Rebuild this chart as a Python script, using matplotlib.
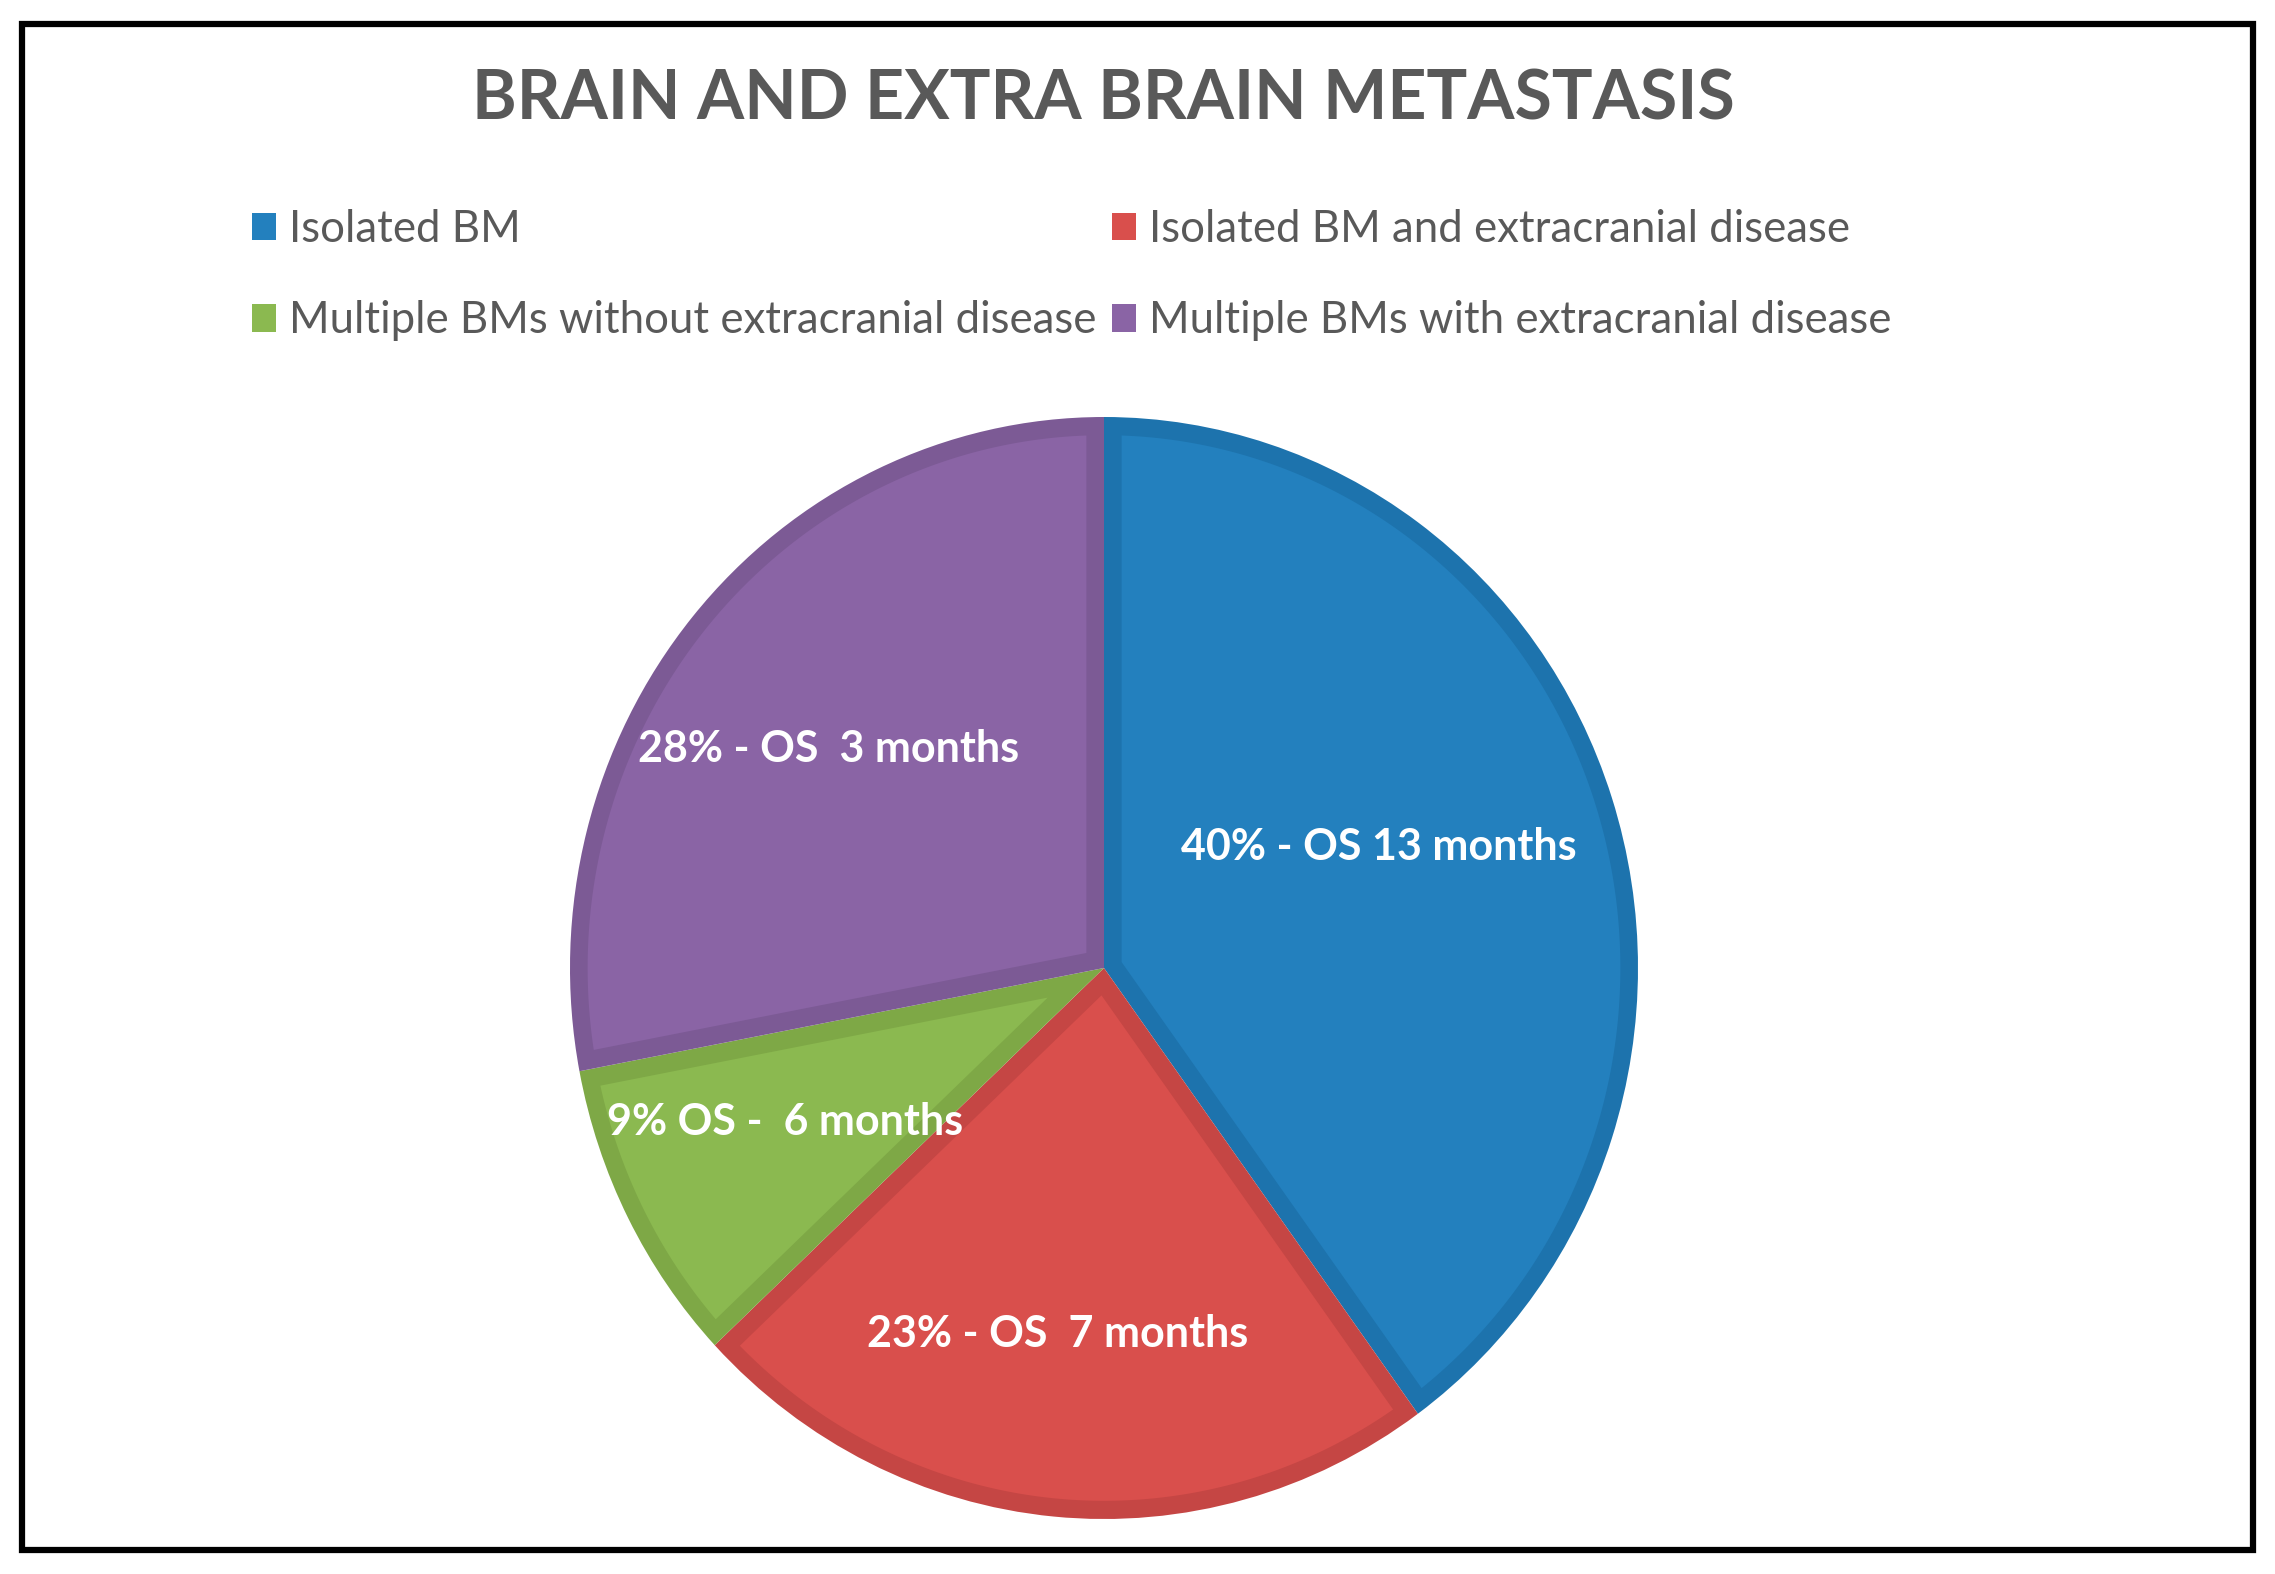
import matplotlib
matplotlib.use('Agg')
import matplotlib.pyplot as plt
from matplotlib.patches import Patch, Rectangle, Polygon
import numpy as np

plt.rcParams['font.family'] = ['Lato', 'DejaVu Sans']

# data
categories = ['Isolated BM', 'Isolated BM and extracranial disease',
              'Multiple BMs without extracranial disease', 'Multiple BMs with extracranial disease']
shares = [40, 23, 9, 28]
slice_labels = ['40% - OS 13 months', '23% - OS  7 months', '9% OS -  6 months', '28% - OS  3 months']
face_colors = ['#2380BE', '#D94F4C', '#8BB950', '#8A64A5']
edge_colors = ['#1D73AD', '#C54644', '#7EA846', '#7C5A95']
title = 'BRAIN AND EXTRA BRAIN METASTASIS'

# label placement (radius, angle tweak in degrees) - layout only
label_r = [0.56, 0.67, 0.66, 0.65]
label_dtheta = [5, -2, -2, 2]
band = 0.033  # width of the darker rim inside each slice

fig = plt.figure(figsize=(22.75, 15.74), dpi=100)

# outer black frame
fig.patches.append(Rectangle((22/2275, 24/1574), 2231/2275, 1526/1574, transform=fig.transFigure,
                             fill=False, edgecolor='black', linewidth=4.5, zorder=0))

fig.text(0.485, 1 - 100/1574, title, ha='center', va='center', fontsize=49, fontweight='bold',
         color='#595959')

# pie axes (slightly taller than wide, as in the original)
ax = fig.add_axes([570/2275, (1574-1519)/1574, 1068/2275, 1102/1574])
wedges, _ = ax.pie(shares, colors=edge_colors, startangle=90, counterclock=False,
                   wedgeprops=dict(linewidth=0))

# lighter inner part of each slice, offset inward by the rim width
for w, fc, lab, lr, dt in zip(wedges, face_colors, slice_labels, label_r, label_dtheta):
    t1, t2, R = w.theta1, w.theta2, w.r
    half = np.radians(t2 - t1) / 2
    mid = np.radians(t1) + half
    apex = band / np.sin(half) * np.array([np.cos(mid), np.sin(mid)])
    delta = np.degrees(np.arctan(band / np.sqrt((R - band)**2 - band**2)))
    th = np.radians(np.linspace(t1 + delta, t2 - delta, 200))
    arc = np.column_stack([(R - band) * np.cos(th), (R - band) * np.sin(th)])
    ax.add_patch(Polygon(np.vstack([apex, arc]), closed=True, facecolor=fc, edgecolor='none'))
    ang = mid + np.radians(dt)
    ax.text(lr * np.cos(ang), lr * np.sin(ang), lab, ha='center', va='center', color='white',
            fontsize=31, fontweight='bold', zorder=5)

ax.set_xlim(-1, 1)
ax.set_ylim(-1, 1)
ax.set_aspect('auto')
ax.axis('off')

# legend, two rows of two
order = [0, 2, 1, 3]
handles = [Patch(facecolor=face_colors[i], edgecolor='none') for i in order]
fig.legend(handles, [categories[i] for i in order], ncol=2, loc='upper left',
           bbox_to_anchor=(252/2275, 1 - 209/1574), frameon=False, fontsize=31.5,
           labelcolor='#595959', handlelength=0.55, handleheight=0.6, handletextpad=0.3,
           columnspacing=0.35, labelspacing=1.15, borderaxespad=0, borderpad=0)

fig.savefig('out.png', dpi=100, facecolor='white')
